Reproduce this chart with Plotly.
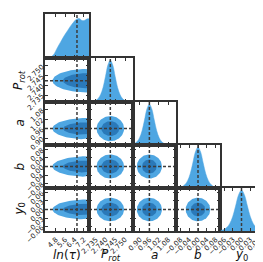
import numpy as np
import plotly.graph_objects as go

W, H = 263, 262

# ---- parameters ----
titles = ["<i>ln</i>(<i>τ</i>)", "<i>P</i><sub><i>rot</i></sub>", "<i>a</i>", "<i>b</i>", "<i>y</i><sub>0</sub>"]
ranges = [[3.86, 7.63], [2.7314, 2.7541], [0.856, 1.129], [-0.10, 0.10], [-0.075, 0.075]]
truths = [6.6, 2.7424, 0.96, 0.0, 0.0]
tickvals = [
    [4.8, 5.6, 6.4, 7.2],
    [2.735, 2.740, 2.745, 2.750],
    [0.90, 0.96, 1.02, 1.08],
    [-0.08, -0.04, 0.00, 0.04, 0.08],
    [-0.06, -0.03, 0.00, 0.03, 0.06],
]
ticktext = [
    ["4.8", "5.6", "6.4", "7.2"],
    ["2.735", "2.740", "2.745", "2.750"],
    ["0.90", "0.96", "1.02", "1.08"],
    ["\u22120.08", "\u22120.04", "0.00", "0.04", "0.08"],
    ["\u22120.06", "\u22120.03", "0.00", "0.03", "0.06"],
]

# ---- 1D marginals (heights as fraction of panel) ----
lntau_x = [4.20, 4.55, 4.91, 5.19, 5.49, 5.79, 6.06, 6.30, 6.49, 6.77, 7.06, 7.29, 7.48, 7.63]
lntau_h = [0.00, 0.06, 0.23, 0.36, 0.50, 0.62, 0.73, 0.81, 0.87, 0.90, 0.85, 0.86, 0.89, 0.89]
prot_x = [2.73365, 2.7349, 2.73615, 2.7374, 2.73865, 2.7399, 2.74115, 2.7424,
          2.74365, 2.7449, 2.74615, 2.7474, 2.74865, 2.7499, 2.75115]
a_x = [0.8515, 0.8670, 0.8825, 0.8980, 0.9135, 0.9290, 0.9445, 0.9600,
       0.9755, 0.9910, 1.0065, 1.0220, 1.0375, 1.0530, 1.0685]
b_x = [-0.0826, -0.0708, -0.0590, -0.0472, -0.0354, -0.0236, -0.0118, 0.0,
       0.0118, 0.0236, 0.0354, 0.0472, 0.0590, 0.0708, 0.0826]
y0_x = [-0.0721, -0.0618, -0.0515, -0.0412, -0.0309, -0.0206, -0.0103, 0.0,
        0.0103, 0.0206, 0.0309, 0.0412, 0.0515, 0.0618, 0.0721]
bell_h = [0.01, 0.035, 0.08, 0.17, 0.33, 0.58, 0.84, 0.95,
          0.84, 0.58, 0.33, 0.17, 0.08, 0.035, 0.01]
marg_x = [lntau_x, prot_x, a_x, b_x, y0_x]
marg_h = [lntau_h, bell_h, bell_h, bell_h, bell_h]

# ---- 2D credible regions: centre and half-widths (inner, outer) ----
centre2d = [7.45, 2.7424, 0.96, 0.0, 0.0]
inner_hw = [2.05, 0.0046, 0.047, 0.033, 0.024]
outer_hw = [2.95, 0.0071, 0.080, 0.056, 0.041]

LIGHT = "#4ea6e2"
DARK = "#2a79b9"
LINE = "#3c3c3c"
FRAME = "#333333"

col_px = [37, 81, 125, 168, 212, 255]
row_px = [6, 50, 94, 137, 180, 223]

fig = go.Figure()
layout = dict(width=W, height=H, margin=dict(l=0, r=0, t=0, b=0, autoexpand=False),
              paper_bgcolor="white", plot_bgcolor="white", showlegend=False,
              font=dict(family="DejaVu Sans", color="#222222"))
annotations = []

t = np.linspace(0, 2 * np.pi, 120)
n = len(titles)
k = 0
for i in range(n):
    for j in range(i + 1):
        k += 1
        xa = "x" if k == 1 else f"x{k}"
        ya = "y" if k == 1 else f"y{k}"
        xkey = "xaxis" if k == 1 else f"xaxis{k}"
        ykey = "yaxis" if k == 1 else f"yaxis{k}"
        bottom = (i == n - 1)
        left = (j == 0 and i > 0)
        layout[xkey] = dict(
            domain=[col_px[j] / W, col_px[j + 1] / W], anchor=ya,
            range=ranges[j], showgrid=False, zeroline=False, automargin=False,
            showline=True, linecolor=FRAME, linewidth=1.5, mirror="ticks",
            ticks="inside", ticklen=3, tickwidth=1, tickcolor=FRAME,
            tickvals=tickvals[j], ticktext=ticktext[j],
            showticklabels=bottom, tickangle=-45,
            tickfont=dict(size=7, family="DejaVu Sans", color="#222222"),
        )
        if i == j:
            layout[ykey] = dict(
                domain=[1 - row_px[i + 1] / H, 1 - row_px[i] / H], anchor=xa,
                range=[0, 1], showgrid=False, zeroline=False, automargin=False,
                showline=True, linecolor=FRAME, linewidth=1.5, mirror=True,
                ticks="", showticklabels=False,
            )
            fig.add_trace(go.Scatter(x=marg_x[j], y=marg_h[j], mode="lines",
                                     line=dict(color=LIGHT, width=0.5, shape="spline"),
                                     fill="tozeroy", fillcolor=LIGHT,
                                     xaxis=xa, yaxis=ya, hoverinfo="skip"))
            fig.add_trace(go.Scatter(x=[truths[j], truths[j]], y=[0, 1], mode="lines",
                                     line=dict(color=LINE, width=1.5, dash="3px,2px"),
                                     xaxis=xa, yaxis=ya, hoverinfo="skip"))
        else:
            layout[ykey] = dict(
                domain=[1 - row_px[i + 1] / H, 1 - row_px[i] / H], anchor=xa,
                range=ranges[i], showgrid=False, zeroline=False, automargin=False,
                showline=True, linecolor=FRAME, linewidth=1.5, mirror="ticks",
                ticks="inside", ticklen=3, tickwidth=1, tickcolor=FRAME,
                tickvals=tickvals[i], ticktext=ticktext[i],
                showticklabels=left, tickangle=-45,
                tickfont=dict(size=7, family="DejaVu Sans", color="#222222"),
            )
            yscale = 0.85 if j == 0 else 1.0
            for hw, col in ((outer_hw, LIGHT), (inner_hw, DARK)):
                ex = centre2d[j] + hw[j] * np.cos(t)
                ey = centre2d[i] + hw[i] * yscale * np.sin(t)
                fig.add_trace(go.Scatter(x=ex, y=ey, mode="lines", line=dict(width=0, color=col),
                                         fill="toself", fillcolor=col,
                                         xaxis=xa, yaxis=ya, hoverinfo="skip"))
            fig.add_trace(go.Scatter(x=[truths[j], truths[j]], y=ranges[i], mode="lines",
                                     line=dict(color=LINE, width=1.5, dash="3px,2px"),
                                     xaxis=xa, yaxis=ya, hoverinfo="skip"))
            fig.add_trace(go.Scatter(x=ranges[j], y=[truths[i], truths[i]], mode="lines",
                                     line=dict(color=LINE, width=1.5, dash="3px,2px"),
                                     xaxis=xa, yaxis=ya, hoverinfo="skip"))

# axis titles
for j in range(n):
    annotations.append(dict(text=titles[j], xref="paper", yref="paper",
                            x=(col_px[j] + col_px[j + 1]) / 2 / W, y=1 - 247 / H,
                            showarrow=False, font=dict(size=12, family="DejaVu Sans", color="#111111"),
                            xanchor="center", yanchor="middle"))
for i in range(1, n):
    annotations.append(dict(text=titles[i], xref="paper", yref="paper",
                            x=11 / W, y=1 - (row_px[i] + row_px[i + 1]) / 2 / H,
                            showarrow=False, textangle=-90,
                            font=dict(size=12, family="DejaVu Sans", color="#111111"),
                            xanchor="center", yanchor="middle"))
layout["annotations"] = annotations
fig.update_layout(**layout)
fig.write_html("out.html")
